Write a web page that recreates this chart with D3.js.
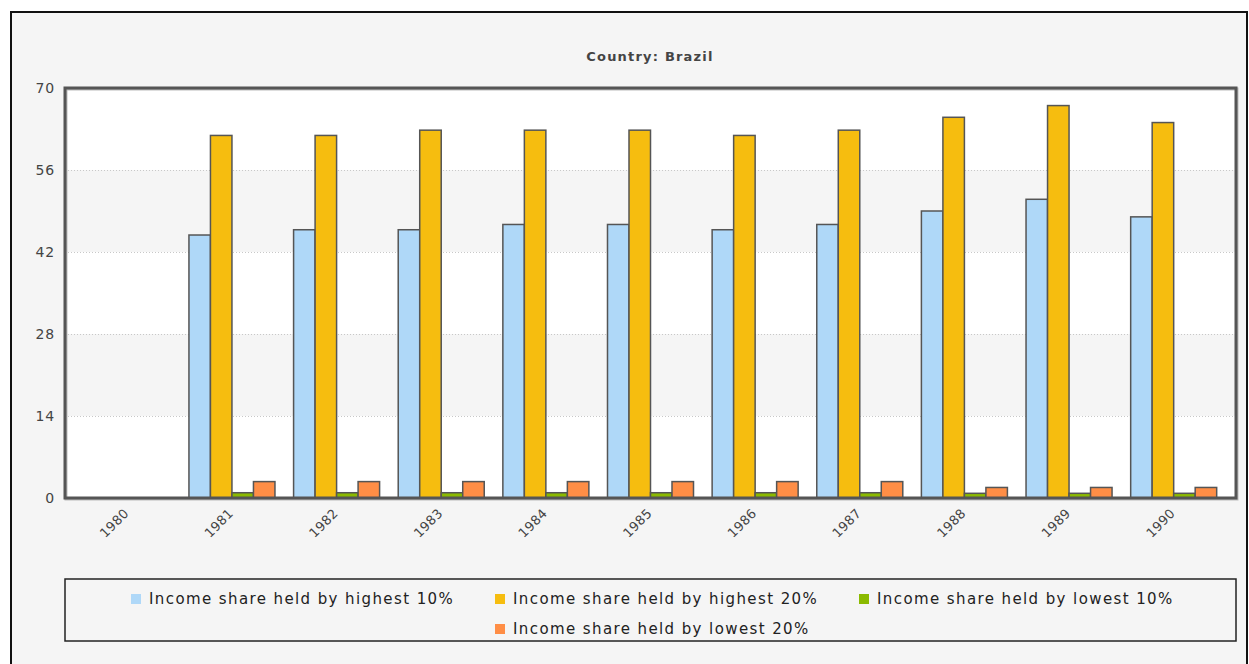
<!DOCTYPE html>
<html>
<head>
<meta charset="utf-8">
<script src="https://cdn.jsdelivr.net/npm/d3@7"></script>
<style>
  html, body { margin: 0; padding: 0; background: #ffffff; }
  svg { display: block; }
</style>
</head>
<body>
<svg id="chart" width="1249" height="664"></svg>
<script>
// Income distribution, Brazil, 1980–1990
const years = ["1980", "1981", "1982", "1983", "1984", "1985", "1986", "1987", "1988", "1989", "1990"];
const highest10 = [null, 44.9, 45.8, 45.8, 46.7, 46.7, 45.8, 46.7, 49.0, 51.0, 48.0];
const highest20 = [null, 61.9, 61.9, 62.8, 62.8, 62.8, 61.9, 62.8, 65.0, 67.0, 64.1];
const lowest10  = [null, 0.9, 0.9, 0.9, 0.9, 0.9, 0.9, 0.9, 0.8, 0.8, 0.8];
const lowest20  = [null, 2.8, 2.8, 2.8, 2.8, 2.8, 2.8, 2.8, 1.8, 1.8, 1.8];
const seriesNames = [
  "Income share held by highest 10%",
  "Income share held by highest 20%",
  "Income share held by lowest 10%",
  "Income share held by lowest 20%"
];
const seriesColors = ["#afd8f8", "#f6bd0f", "#8bba00", "#ff8e46"];
const yTicks = [0, 14, 28, 42, 56, 70];
const chartTitle = "Country: Brazil";

const seriesValues = [highest10, highest20, lowest10, lowest20];
const rows = years.map((y, i) => ({ year: y, values: seriesValues.map(s => s[i]) }));

const svg = d3.select("#chart");
const font = "'DejaVu Sans', Verdana, sans-serif";

// outer frame
svg.append("rect")
  .attr("x", 11).attr("y", 12).attr("width", 1236).attr("height", 700)
  .attr("fill", "#f5f5f5").attr("stroke", "#111").attr("stroke-width", 2);

const plot = { left: 65, top: 88, right: 1236, bottom: 498 };

const y = d3.scaleLinear().domain([0, 70]).range([plot.bottom, plot.top]);
const x0 = d3.scaleBand().domain(years).range([plot.left + 10, plot.right - 10]).padding(0);
const x1 = d3.scaleBand().domain(d3.range(4))
  .range([x0.bandwidth() * 0.089, x0.bandwidth() * 0.911]).padding(0);

// alternating bands
const bands = d3.pairs(yTicks);
svg.append("g").selectAll("rect").data(bands).join("rect")
  .attr("x", plot.left).attr("width", plot.right - plot.left)
  .attr("y", d => y(d[1])).attr("height", d => y(d[0]) - y(d[1]))
  .attr("fill", (d, i) => i % 2 === 0 ? "#ffffff" : "#f5f5f5");

// grid lines
svg.append("g").selectAll("line").data(yTicks.slice(1, -1)).join("line")
  .attr("x1", plot.left + 3).attr("x2", plot.right - 3)
  .attr("y1", d => y(d) + 0.5).attr("y2", d => y(d) + 0.5)
  .attr("stroke", "#c8c8c8").attr("stroke-width", 1).attr("stroke-dasharray", "1,2");

// bars
const groups = svg.append("g").selectAll("g").data(rows).join("g")
  .attr("transform", d => `translate(${x0(d.year)},0)`);
groups.selectAll("rect")
  .data(d => d.values.map((v, k) => ({ k, v })).filter(e => e.v != null))
  .join("rect")
  .attr("x", e => x1(e.k)).attr("width", x1.bandwidth())
  .attr("y", e => y(e.v)).attr("height", e => y(0) - y(e.v))
  .attr("fill", e => seriesColors[e.k])
  .attr("stroke", "#555").attr("stroke-width", 1.5);

// plot border
svg.append("rect")
  .attr("x", plot.left + 1).attr("y", plot.top + 1)
  .attr("width", plot.right - plot.left).attr("height", plot.bottom - plot.top)
  .attr("fill", "none").attr("stroke", "#bbb").attr("stroke-width", 3);
svg.append("rect")
  .attr("x", plot.left).attr("y", plot.top)
  .attr("width", plot.right - plot.left).attr("height", plot.bottom - plot.top)
  .attr("fill", "none").attr("stroke", "#555").attr("stroke-width", 3);

// y axis
const yAxis = d3.axisLeft(y).tickValues(yTicks).tickSize(0).tickPadding(10);
const yg = svg.append("g").attr("transform", `translate(${plot.left},0)`).call(yAxis);
yg.select(".domain").remove();
yg.selectAll("text").attr("fill", "#444").style("font-family", font)
  .style("font-size", "14px").style("letter-spacing", "0.8px");

// x axis labels
const xAxis = d3.axisBottom(x0).tickSize(0).tickPadding(0);
const xg = svg.append("g").attr("transform", `translate(0,${plot.bottom})`).call(xAxis);
xg.select(".domain").remove();
xg.selectAll("text")
  .attr("fill", "#444").style("font-family", font).style("font-size", "13px")
  .style("letter-spacing", "0.3px")
  .attr("text-anchor", "end").attr("dy", "0.35em")
  .attr("transform", "translate(-1,13) rotate(-45)");

// title
svg.append("text")
  .attr("x", 650).attr("y", 61).attr("text-anchor", "middle")
  .attr("fill", "#444").style("font-family", font).style("font-size", "13px")
  .style("letter-spacing", "1.2px")
  .style("font-weight", "bold").text(chartTitle);

// legend
const legendBox = { x: 65, y: 579, w: 1171, h: 62 };
svg.append("rect")
  .attr("x", legendBox.x).attr("y", legendBox.y).attr("width", legendBox.w).attr("height", legendBox.h)
  .attr("fill", "#f5f5f5").attr("stroke", "#222").attr("stroke-width", 1.5);
const legendPos = [[131, 599], [495, 599], [859, 599], [495, 629]];
const items = svg.append("g").selectAll("g").data(seriesNames).join("g")
  .attr("transform", (d, i) => `translate(${legendPos[i][0]},${legendPos[i][1]})`);
items.append("rect")
  .attr("x", 0).attr("y", -5).attr("width", 10).attr("height", 10)
  .attr("fill", (d, i) => seriesColors[i]);
items.append("text")
  .attr("x", 18).attr("y", 0).attr("dy", "0.35em")
  .attr("fill", "#222").style("font-family", font).style("font-size", "15px")
  .style("letter-spacing", "1.4px")
  .text(d => d);
</script>
</body>
</html>
